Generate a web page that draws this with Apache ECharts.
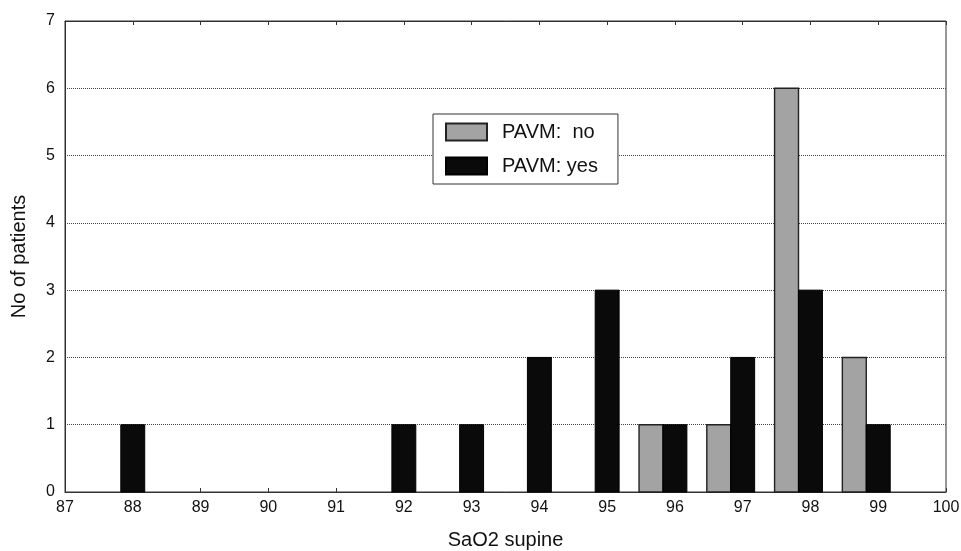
<!DOCTYPE html>
<html><head><meta charset="utf-8">
<script src="https://cdn.jsdelivr.net/npm/echarts@6/dist/echarts.min.js"></script>
<style>html,body{margin:0;padding:0;background:#fff}#c{width:961px;height:551px}</style>
</head><body><div id="c"></div>
<script>
const sao2 = [88, 89, 90, 91, 92, 93, 94, 95, 96, 97, 98, 99];
const pavmNo = [0, 0, 0, 0, 0, 0, 0, 0, 1, 1, 6, 2];
const pavmYes = [1, 0, 0, 0, 1, 1, 2, 3, 1, 2, 3, 1];
const xTicks = [87, 88, 89, 90, 91, 92, 93, 94, 95, 96, 97, 98, 99, 100];
const yTicks = [0, 1, 2, 3, 4, 5, 6, 7];

const BAR_W = 0.353; // in x units
function makeRender(shift) {
  return function (params, api) {
    const x = api.value(0), y = api.value(1);
    if (!y) return null;
    const p0 = api.coord([x, 0]);
    const p1 = api.coord([x, y]);
    const unit = api.size([1, 0])[0];
    const w = BAR_W * unit;
    const left = p0[0] - w / 2 + shift * w;
    return {
      type: 'rect',
      shape: { x: left, y: p1[1], width: w, height: p0[1] - p1[1] },
      style: api.style()
    };
  };
}
const chart = echarts.init(document.getElementById('c'), null, { renderer: 'canvas' });
const font = 'Liberation Sans, Arial, sans-serif';
chart.setOption({
  backgroundColor: '#fff',
  animation: false,
  textStyle: { fontFamily: font },
  grid: { left: 65, right: 15, top: 21, bottom: 59, show: true, borderColor: '#333', borderWidth: 1,
    containLabel: false, outerBoundsMode: 'none' },
  legend: {
    orient: 'vertical', left: 433, top: 114,
    padding: [8, 20, 8, 12],
    borderColor: '#333', borderWidth: 1, backgroundColor: '#fff',
    itemWidth: 41, itemHeight: 17, itemGap: 14,
    textStyle: { fontSize: 20, color: '#111', fontFamily: font, padding: [0, 0, 0, 10] },
    data: [
      { name: 'PAVM:  no', icon: 'rect' },
      { name: 'PAVM: yes', icon: 'rect' }
    ]
  },
  xAxis: [{
    type: 'value', min: 87, max: 100, interval: 1,
    name: 'SaO2 supine', nameLocation: 'middle', nameGap: 38,
    nameTextStyle: { fontSize: 20, color: '#111', fontFamily: font },
    axisLine: { lineStyle: { color: '#333' } },
    axisTick: { inside: true, length: 4, lineStyle: { color: '#333' } },
    axisLabel: { fontSize: 16, color: '#111', margin: 8, fontFamily: font,
      formatter: v => xTicks.includes(v) ? String(v) : '' },
    splitLine: { show: false }
  }, {
    type: 'value', min: 87, max: 100, interval: 1, position: 'top',
    axisLine: { lineStyle: { color: '#333' } },
    axisTick: { inside: true, length: 4, lineStyle: { color: '#333' } },
    axisLabel: { show: false }, splitLine: { show: false }
  }],
  yAxis: {
    type: 'value', min: 0, max: 7, interval: 1,
    name: 'No of patients', nameLocation: 'middle', nameGap: 36,
    nameTextStyle: { fontSize: 20, color: '#111', fontFamily: font },
    axisLine: { show: true, lineStyle: { color: '#333' } },
    axisTick: { show: false },
    axisLabel: { fontSize: 16, color: '#111', margin: 10, fontFamily: font,
      formatter: v => yTicks.includes(v) ? String(v) : '' },
    splitLine: { show: true, lineStyle: { type: [1, 1], color: '#444', width: 1 } }
  },
  series: [{
    name: 'PAVM:  no', type: 'custom',
    renderItem: makeRender(-1),
    itemStyle: { color: '#a3a3a3', borderColor: '#222', borderWidth: 1.4 },
    encode: { x: 0, y: 1 },
    data: sao2.map((x, i) => [x, pavmNo[i]])
  }, {
    name: 'PAVM: yes', type: 'custom',
    renderItem: makeRender(0),
    itemStyle: { color: '#0a0a0a', borderColor: '#000', borderWidth: 1 },
    encode: { x: 0, y: 1 },
    data: sao2.map((x, i) => [x, pavmYes[i]])
  }]
});
</script></body></html>
